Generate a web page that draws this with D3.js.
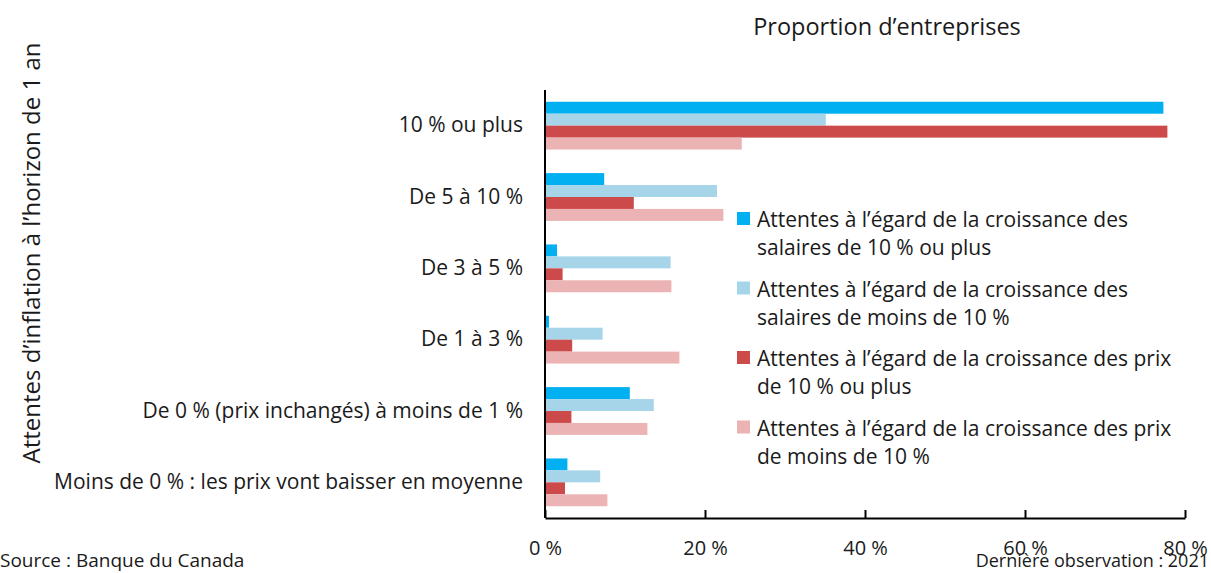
<!DOCTYPE html>
<html>
<head>
<meta charset="utf-8">
<script src="https://cdn.jsdelivr.net/npm/d3@7"></script>
<style>
  body { margin: 0; background: #fff; }
  svg text { font-family: "Open Sans", "Noto Sans", sans-serif; fill: #1a1a1a; }
</style>
</head>
<body>
<div id="chart"></div>
<script>
const categories = [
  '10 % ou plus',
  'De 5 à 10 %',
  'De 3 à 5 %',
  'De 1 à 3 %',
  'De 0 % (prix inchangés) à moins de 1 %',
  'Moins de 0 % : les prix vont baisser en moyenne'
];
const seriesNames = [
  ['Attentes à l’égard de la croissance des', 'salaires de 10 % ou plus'],
  ['Attentes à l’égard de la croissance des', 'salaires de moins de 10 %'],
  ['Attentes à l’égard de la croissance des prix', 'de 10 % ou plus'],
  ['Attentes à l’égard de la croissance des prix', 'de moins de 10 %']
];
const wagesHigh = [77.3, 7.4, 1.5, 0.5, 10.6, 2.8];
const wagesLow = [35.1, 21.5, 15.7, 7.2, 13.6, 6.9];
const pricesHigh = [77.8, 11.1, 2.2, 3.4, 3.3, 2.5];
const pricesLow = [24.6, 22.3, 15.8, 16.8, 12.8, 7.8];
const colors = ['#00b0f0', '#a6d5ea', '#cd4a4a', '#ebb3b3'];
const xTicks = [0, 20, 40, 60, 80];

const width = 1211, height = 573;
const series = [wagesHigh, wagesLow, pricesHigh, pricesLow];

const svg = d3.select('#chart').append('svg')
  .attr('width', width)
  .attr('height', height);

const x = d3.scaleLinear().domain([0, 80]).range([545, 1185]);
const y = d3.scaleBand().domain(categories).range([90, 518])
  .paddingInner(0.33).paddingOuter(0.165);
const ySub = d3.scaleBand().domain(d3.range(series.length))
  .range([0, y.bandwidth()]);

// bars
const groups = svg.selectAll('g.cat')
  .data(categories)
  .enter()
  .append('g')
  .attr('class', 'cat')
  .attr('transform', d => `translate(0,${y(d)})`);

groups.selectAll('rect')
  .data((d, i) => series.map((s, k) => ({ k, v: s[i] })))
  .enter()
  .append('rect')
  .attr('x', x(0))
  .attr('y', d => ySub(d.k))
  .attr('width', d => x(d.v) - x(0))
  .attr('height', ySub.bandwidth())
  .attr('fill', d => colors[d.k]);

// x axis
const xAxis = svg.append('g')
  .attr('transform', `translate(0,518)`)
  .call(d3.axisBottom(x).tickValues(xTicks).tickSizeInner(-8).tickSizeOuter(0)
    .tickFormat(d => `${d} %`));
xAxis.select('.domain').attr('stroke', '#000').attr('stroke-width', 2);
xAxis.selectAll('.tick line').attr('stroke', '#000').attr('stroke-width', 2);
xAxis.selectAll('.tick text')
  .attr('y', 23)
  .style('font-size', '20px');

// y axis
const yAxis = svg.append('g')
  .attr('transform', `translate(545,0)`)
  .call(d3.axisLeft(y).tickSize(0).tickPadding(22));
yAxis.select('.domain').attr('stroke', '#000').attr('stroke-width', 2)
  .attr('d', 'M0,90V518');
yAxis.selectAll('.tick text').style('font-size', '21px');

// titles
svg.append('text')
  .attr('x', 887).attr('y', 35)
  .attr('text-anchor', 'middle')
  .style('font-size', '23.5px')
  .text('Proportion d’entreprises');

svg.append('text')
  .attr('transform', 'translate(40,253) rotate(-90)')
  .attr('text-anchor', 'middle')
  .style('font-size', '24px')
  .text('Attentes d’inflation à l’horizon de 1 an');

// legend
const legend = svg.selectAll('g.legend')
  .data(seriesNames)
  .enter()
  .append('g')
  .attr('class', 'legend')
  .attr('transform', (d, i) => `translate(737,${212 + i * 69.5})`);

legend.append('rect')
  .attr('width', 13).attr('height', 13)
  .attr('fill', (d, i) => colors[i]);

legend.selectAll('text')
  .data(d => d)
  .enter()
  .append('text')
  .attr('x', 20)
  .attr('y', (d, j) => 15 + j * 28)
  .style('font-size', '21px')
  .text(d => d);

// footer
svg.append('text')
  .attr('x', 0).attr('y', 567)
  .style('font-size', '19px')
  .text('Source : Banque du Canada');

svg.append('text')
  .attr('x', 1209).attr('y', 567)
  .attr('text-anchor', 'end')
  .style('font-size', '18px')
  .text('Dernière observation : 2021');
</script>
</body>
</html>
